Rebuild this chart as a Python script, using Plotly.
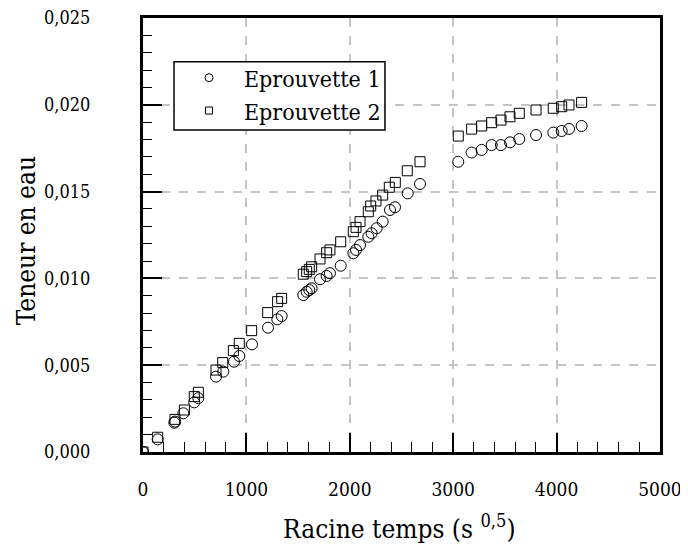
import plotly.graph_objects as go

x1 = [0, 142, 303, 310, 390, 496, 535, 706, 777, 880, 931, 1054, 1209, 1299, 1341,
      1550, 1583, 1608, 1631, 1712, 1776, 1808, 1912, 2034, 2060, 2099, 2179, 2211,
      2260, 2318, 2389, 2437, 2560, 2679,
      3049, 3178, 3275, 3372, 3462, 3549, 3639, 3801, 3968, 4049, 4120, 4242]
y1 = [0.0, 0.00073, 0.00169, 0.00175, 0.00223, 0.00286, 0.0031, 0.00434, 0.00463, 0.0052,
      0.00553, 0.0062, 0.00716, 0.00764, 0.00783,
      0.00904, 0.00923, 0.00933, 0.00943, 0.00995, 0.01014, 0.0103, 0.01073, 0.01145,
      0.01164, 0.01192, 0.0124, 0.0126, 0.01289, 0.01327, 0.01394, 0.0141, 0.0149, 0.01544,
      0.01672, 0.01725, 0.0174, 0.01768, 0.01768, 0.01784, 0.01803, 0.01826, 0.0184,
      0.01849, 0.01861, 0.01878]

x2 = [0, 142, 309, 400, 496, 535, 706, 771, 874, 931, 1051, 1206, 1302, 1341,
      1550, 1583, 1608, 1631, 1712, 1776, 1808, 1912, 2034, 2060, 2099, 2179, 2202,
      2253, 2318, 2382, 2440, 2556, 2679,
      3049, 3178, 3275, 3372, 3462, 3549, 3639, 3801, 3968, 4049, 4120, 4242]
y2 = [0.0, 0.00085, 0.00188, 0.00242, 0.00319, 0.00344, 0.00472, 0.00515, 0.00584, 0.00626,
      0.00699, 0.00803, 0.00866, 0.00885,
      0.01024, 0.01039, 0.01052, 0.01067, 0.01112, 0.01148, 0.01164, 0.01211, 0.01269,
      0.01294, 0.01327, 0.01384, 0.01417, 0.01446, 0.0148, 0.01525, 0.01553, 0.0162, 0.01672,
      0.0182, 0.0186, 0.01878, 0.01897, 0.01912, 0.01931, 0.01951, 0.0197, 0.0198,
      0.01989, 0.01999, 0.02014]

x_ticks = [0, 1000, 2000, 3000, 4000, 5000]
y_ticks = [0.0, 0.005, 0.010, 0.015, 0.020, 0.025]
x_title = "Racine temps (s <sup>0,5</sup>)"
y_title = "Teneur en eau"
names = ["Eprouvette 1", "Eprouvette 2"]

FONT = "DejaVu Serif Condensed, DejaVu Serif, serif"

fig = go.Figure()
fig.add_trace(go.Scatter(
    x=x1, y=y1, mode="markers", name=names[0], showlegend=False,
    marker=dict(symbol="circle-open", size=11, color="black", line=dict(width=1))))
fig.add_trace(go.Scatter(
    x=x2, y=y2, mode="markers", name=names[1], showlegend=False,
    marker=dict(symbol="square-open", size=10, color="black", line=dict(width=1))))
# legend entries (smaller symbols, as in the reference)
fig.add_trace(go.Scatter(
    x=[None], y=[None], mode="markers", name=names[0],
    marker=dict(symbol="circle-open", size=8, color="black", line=dict(width=1))))
fig.add_trace(go.Scatter(
    x=[None], y=[None], mode="markers", name=names[1],
    marker=dict(symbol="square-open", size=7, color="black", line=dict(width=1))))

grid = dict(showgrid=True, gridcolor="#c4c4c4", gridwidth=2, griddash="dash")

fig.update_xaxes(
    range=[0, 5000], tickvals=x_ticks, ticktext=[str(v) for v in x_ticks],
    ticks="inside", ticklen=19, tickwidth=2, tickcolor="black",
    minor=dict(ticks="inside", ticklen=10, tickwidth=1, tickcolor="black", dtick=200, showgrid=False),
    showline=True, linecolor="black", linewidth=3, mirror=True,
    zeroline=False, ticklabelstandoff=18, automargin=False, ticklabeloverflow="allow",
    tickfont=dict(family=FONT, size=19, color="black"),
    **grid)
fig.update_yaxes(
    range=[0, 0.025], tickvals=y_ticks, ticktext=[f"{v:.3f}".replace(".", ",") for v in y_ticks],
    ticks="inside", ticklen=19, tickwidth=2, tickcolor="black",
    minor=dict(ticks="inside", ticklen=9, tickwidth=1, tickcolor="black", dtick=0.001, showgrid=False),
    showline=True, linecolor="black", linewidth=3, mirror=True,
    zeroline=False, ticklabelstandoff=46, automargin=False, ticklabeloverflow="allow",
    tickfont=dict(family=FONT, size=18, color="black"),
    **grid)

fig.add_annotation(text=x_title, xref="paper", yref="paper", x=0.497, y=-0.173,
                   xanchor="center", yanchor="middle", showarrow=False,
                   font=dict(family=FONT, size=26, color="black"))
fig.add_annotation(text=y_title, xref="paper", yref="paper", x=-0.226, y=0.486,
                   xanchor="center", yanchor="middle", showarrow=False, textangle=-90,
                   font=dict(family=FONT, size=26, color="black"))

# legend frame
fig.add_shape(type="rect", xref="paper", yref="paper", x0=0.060, x1=0.468, y0=0.742, y1=0.899,
              line=dict(color="black", width=1.5), fillcolor="white", layer="above")

fig.update_layout(
    width=680, height=545,
    margin=dict(l=135, r=28, t=10, b=101),
    paper_bgcolor="white", plot_bgcolor="white",
    font=dict(family=FONT, color="black"),
    showlegend=True,
    legend=dict(x=0.06, y=0.912, xanchor="left", yanchor="top",
                bgcolor="rgba(0,0,0,0)", borderwidth=0,
                font=dict(family=FONT, size=23, color="black"),
                itemwidth=60, tracegroupgap=0),
)

fig.write_html("out.html")
